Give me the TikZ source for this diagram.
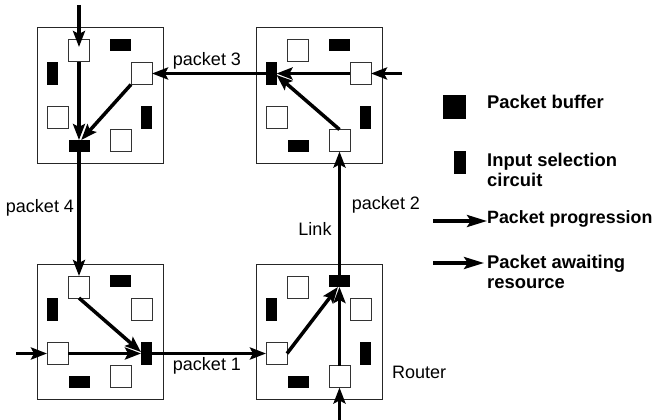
\documentclass[tikz,border=0pt]{standalone}
\usepackage{fontspec}
\setmainfont{Liberation Sans}
\usetikzlibrary{arrows.meta}
\begin{document}
\begin{tikzpicture}[x=1pt,y=-1pt,
  routerbox/.style={draw=black!85,line width=1pt,minimum width=126pt,minimum height=135pt,anchor=north west,inner sep=0pt,outer sep=0pt},
  buf/.style={draw=black!80,line width=1pt,fill=white,minimum width=21pt,minimum height=22pt,inner sep=0pt,outer sep=0pt},
  selh/.style={fill=black,minimum width=21pt,minimum height=12pt,inner sep=0pt,outer sep=0pt},
  selv/.style={fill=black,minimum width=11pt,minimum height=23pt,inner sep=0pt,outer sep=0pt},
  conn/.style={line width=3.5pt,-{Stealth[length=16pt,width=12pt,inset=3pt]}},
  legarrow/.style={line width=3.5pt,-{Stealth[length=20pt,width=12pt,inset=4pt]}},
  lbl/.style={font=\fontsize{18}{20}\selectfont,inner sep=0pt},
  leg/.style={font=\fontsize{18.4}{20}\selectfont\bfseries,inner sep=0pt,anchor=west,align=left},
]
\useasboundingbox (0,0) rectangle (654,420);
\foreach \r/\ox/\oy in {r1/37/28, r2/256/28, r3/37/264, r4/256/264}{
  \node[routerbox] (\r) at (\ox,\oy) {};
  \begin{scope}[shift={(\ox,\oy)}]
    \node[buf]  (\r-ti) at (42,23) {};
    \node[selh] (\r-ts) at (83.5,17) {};
    \node[selv] (\r-ls) at (15,45.5) {};
    \node[buf]  (\r-ri) at (104.5,45.5) {};
    \node[buf]  (\r-li) at (20.5,89.5) {};
    \node[selv] (\r-rs) at (109.5,89.5) {};
    \node[selh] (\r-bs) at (42,118) {};
    \node[buf]  (\r-bi) at (83.5,112.5) {};
  \end{scope}
}
% free ends
\coordinate (in1) at (79,5);
\coordinate (in2) at (402,73.5);
\coordinate (in3) at (16,353.5);
\coordinate (in4) at (339.5,420);
% router 1
\draw[conn,shorten >=-7pt] (in1) -- (r1-ti.north);
\draw[conn] (r1-ti.south) -- (r1-bs.north);
\draw[conn] (r1-ri.south west) -- (r1-bs.70);
\draw[conn] (r1-bs.south) -- (r3-ti.north);
% router 2
\draw[conn] (in2) -- (r2-ri.east);
\draw[conn] (r2-ri.west) -- (r2-ls.east);
\draw[conn] (r2-bi.north) -- (r2-ls.-15);
\draw[conn] (r2-ls.west) -- (r1-ri.east);
% router 3
\draw[conn] (in3) -- (r3-li.west);
\draw[conn] (r3-li.east) -- (r3-rs.west);
\draw[conn] (r3-ti.south) -- (r3-rs.165);
\draw[conn] (r3-rs.east) -- (r4-li.west);
% router 4
\draw[conn] (in4) -- (r4-bi.south);
\draw[conn] (r4-bi.north) -- (r4-ts.south);
\draw[conn] (r4-li.east) -- (r4-ts.-105);
\draw[conn] (r4-ts.north) -- (r2-bi.south);
% labels
\node[lbl] (p3) at (207,61) {packet 3};
\node[lbl] (p4) at (40,208) {packet 4};
\node[lbl] (p2) at (386,205) {packet 2};
\node[lbl] (lnk) at (315,229) {Link};
\node[lbl] (p1) at (207,366) {packet 1};
\node[lbl,anchor=west] (rt) at (392,372) {Router};
% legend
\node[fill=black,minimum width=23pt,minimum height=24pt,inner sep=0pt] (lgb) at (454.5,107) {};
\node[leg] (lgbt) at (487,102) {Packet buffer};
\node[fill=black,minimum width=12pt,minimum height=23pt,inner sep=0pt] (lgs) at (460,162.5) {};
\node[leg] (lgst) at (487,170) {Input selection\\circuit};
\node[leg,font=\fontsize{17.8}{20}\selectfont\bfseries] (lgpt) at (487,219) {Packet progression};
\coordinate (lgp) at (433,221);
\draw[legarrow] (lgp) -- (lgp -| lgpt.west);
\node[leg] (lgwt) at (487,272) {Packet awaiting\\resource};
\coordinate (lgw) at (433,263);
\draw[legarrow] (lgw) -- ([xshift=-3pt]lgw -| lgwt.west);
\end{tikzpicture}
\end{document}
